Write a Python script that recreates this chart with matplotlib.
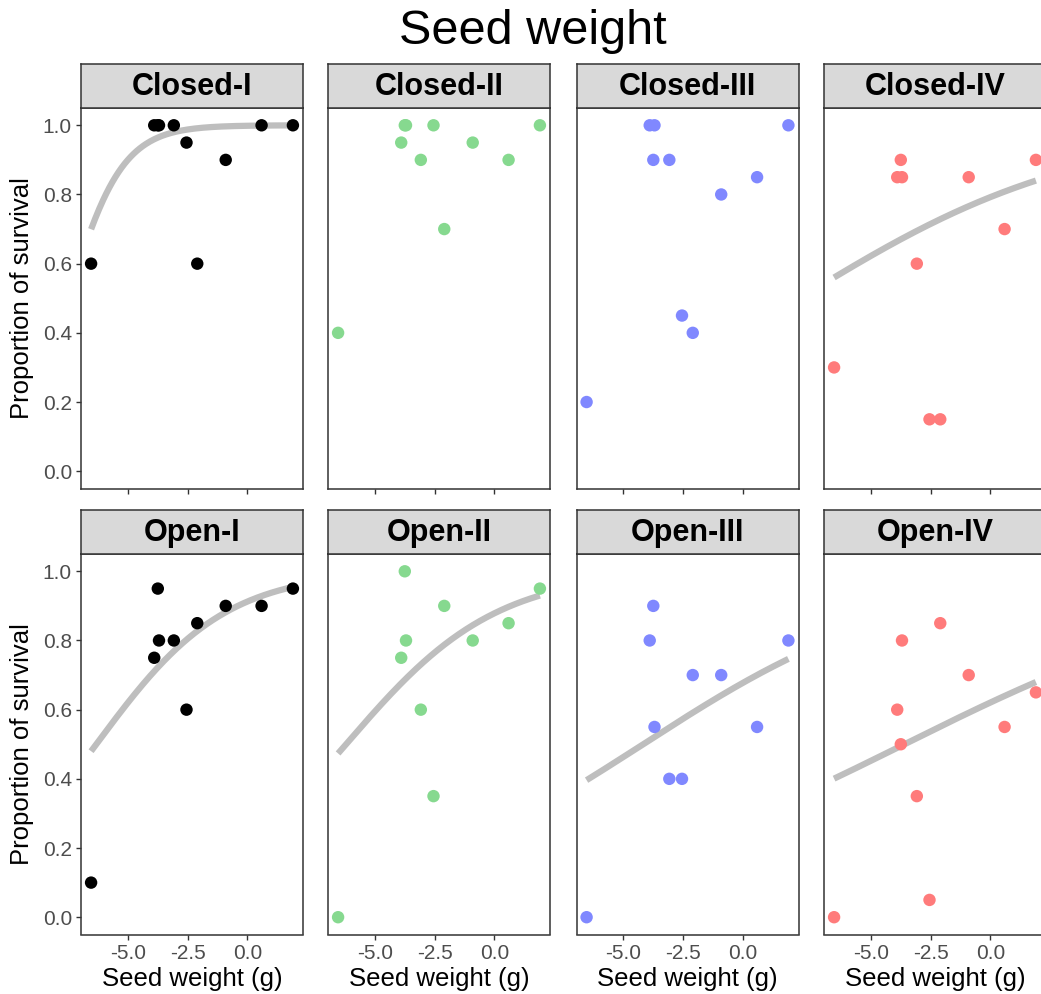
import numpy as np
import matplotlib
matplotlib.use("Agg")
import matplotlib.pyplot as plt
from matplotlib.ticker import FixedLocator, FuncFormatter

plt.rcParams['font.family'] = ['Liberation Sans', 'DejaVu Sans']
plt.rcParams['axes.unicode_minus'] = False

# ---- data ----
seed_weight = [-6.54, -3.90, -3.75, -3.70, -3.08, -2.55, -2.10, -0.91, 0.59, 1.90]

closed_I   = [0.60, 1.00, 1.00, 1.00, 1.00, 0.95, 0.60, 0.90, 1.00, 1.00]
closed_II  = [0.40, 0.95, 1.00, 1.00, 0.90, 1.00, 0.70, 0.95, 0.90, 1.00]
closed_III = [0.20, 1.00, 0.90, 1.00, 0.90, 0.45, 0.40, 0.80, 0.85, 1.00]
closed_IV  = [0.30, 0.85, 0.90, 0.85, 0.60, 0.15, 0.15, 0.85, 0.70, 0.90]
open_I     = [0.10, 0.75, 0.95, 0.80, 0.80, 0.60, 0.85, 0.90, 0.90, 0.95]
open_II    = [0.00, 0.75, 1.00, 0.80, 0.60, 0.35, 0.90, 0.80, 0.85, 0.95]
open_III   = [0.00, 0.80, 0.90, 0.55, 0.40, 0.40, 0.70, 0.70, 0.55, 0.80]
open_IV    = [0.00, 0.60, 0.50, 0.80, 0.35, 0.05, 0.85, 0.70, 0.55, 0.65]

panel_titles = ["Closed-I", "Closed-II", "Closed-III", "Closed-IV",
                "Open-I", "Open-II", "Open-III", "Open-IV"]
panel_values = [closed_I, closed_II, closed_III, closed_IV,
                open_I, open_II, open_III, open_IV]
# logistic fit coefficients (intercept, slope); None = no fitted line
fit_intercept = [6.60, None, None, 1.34, 2.346, 1.98, 0.743, 0.493]
fit_slope     = [0.88, None, None, 0.168, 0.371, 0.319, 0.178, 0.137]

group_colors = ["#000000", "#86D98F", "#8088FF", "#FF7B7B"]

x_ticks = [-5.0, -2.5, 0.0]
y_ticks = [0.0, 0.2, 0.4, 0.6, 0.8, 1.0]

# ---- layout (pixels) ----
W, H = 1041, 994
fig = plt.figure(figsize=(W / 100, H / 100), dpi=100)

col_left = [81, 328, 576.5, 824]
panel_w = 222
row_strip_top = [64, 510]
strip_h = 44
panel_h = 380.5

def fx(px):
    return px / W

def fy(py):
    return 1 - py / H

xmin, xmax = min(seed_weight), max(seed_weight)
xr = xmax - xmin
xlim = (xmin - 0.05 * xr, xmax + 0.05 * xr)
ylim = (-0.05, 1.05)

tick_color = "#333333"
label_color = "#4D4D4D"

for i in range(8):
    r, c = divmod(i, 4)
    left = col_left[c]
    top_strip = row_strip_top[r]
    top_panel = top_strip + strip_h
    ax = fig.add_axes([fx(left), fy(top_panel + panel_h), panel_w / W, panel_h / H])
    sax = fig.add_axes([fx(left), fy(top_panel), panel_w / W, strip_h / H])

    # strip
    sax.set_facecolor("#D9D9D9")
    sax.set_xticks([])
    sax.set_yticks([])
    for sp in sax.spines.values():
        sp.set_color("#333333")
        sp.set_linewidth(1.1)
    sax.text(0.5, 0.47, panel_titles[i], ha="center", va="center",
             fontsize=22, fontweight="bold", color="black", transform=sax.transAxes)

    # fitted curve
    if fit_intercept[i] is not None:
        xx = np.linspace(xmin, xmax, 200)
        yy = 1 / (1 + np.exp(-(fit_intercept[i] + fit_slope[i] * xx)))
        ax.plot(xx, yy, color="#BEBEBE", lw=4.5, solid_capstyle="butt", zorder=2)

    ax.scatter(seed_weight, panel_values[i], s=80, color=group_colors[c],
               edgecolors="none", zorder=3)

    ax.set_xlim(*xlim)
    ax.set_ylim(*ylim)
    for sp in ax.spines.values():
        sp.set_color("#333333")
        sp.set_linewidth(1.1)

    ax.xaxis.set_major_locator(FixedLocator(x_ticks))
    ax.yaxis.set_major_locator(FixedLocator(y_ticks))
    ax.xaxis.set_major_formatter(FuncFormatter(lambda v, p: f"{v:.1f}"))
    ax.yaxis.set_major_formatter(FuncFormatter(lambda v, p: f"{v:.1f}"))
    ax.tick_params(axis="both", length=3.5, width=1.0, color=tick_color,
                   labelsize=15, labelcolor=label_color, pad=3)
    if c != 0:
        ax.tick_params(axis="y", left=False, labelleft=False)
    else:
        ax.set_ylabel("Proportion of survival", fontsize=18.5, color="black", labelpad=6)
    if r == 0:
        ax.tick_params(axis="x", labelbottom=False)
    else:
        ax.set_xlabel("Seed weight (g)", fontsize=18.5, color="black", labelpad=3)

fig.text(fx(533), fy(32), "Seed weight", ha="center", va="center", fontsize=35)

fig.savefig("out.png", dpi=100)
